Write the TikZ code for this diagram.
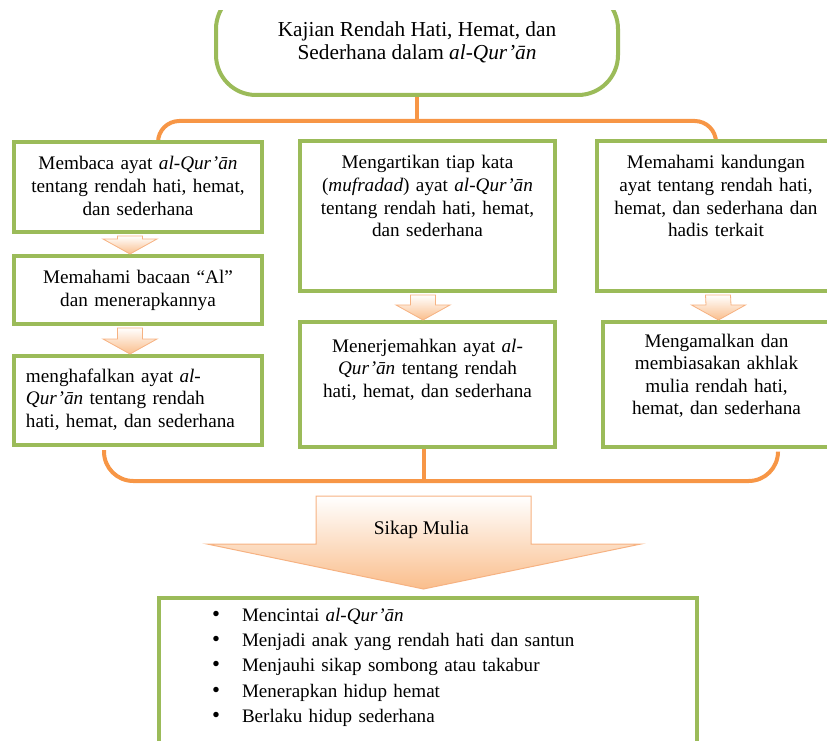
\documentclass[tikz,border=0pt]{standalone}
\usepackage{fontspec}
\setmainfont{Liberation Serif}
\definecolor{boxgreen}{RGB}{155, 187, 89}
\definecolor{linkorange}{RGB}{247, 150, 70}
\definecolor{arrowpeach}{RGB}{250, 190, 140}
\definecolor{arrowedge}{RGB}{246, 178, 130}
\usetikzlibrary{positioning, calc}

\tikzset{
  stepbox/.style={draw=boxgreen, fill=white, line width=3pt, anchor=north, inner xsep=4pt, inner ysep=11pt, text height=10pt, align=center, font=\fontsize{14.4}{16.9}\selectfont},
  bracket/.style={draw=linkorange, line width=3pt, rounded corners=16pt},
  smallarrow/.style={draw=arrowedge, line width=0.6pt, top color=white, bottom color=arrowpeach},
  bigarrow/.style={draw=arrowedge, line width=0.75pt, top color=white, bottom color=arrowpeach}
}

\begin{document}
\begin{tikzpicture}[x=0.75pt, y=-0.75pt]
  \useasboundingbox (0,0) rectangle (827,741);
  \clip (0,11) rectangle (827,741);

  % Topic
  \node[draw=boxgreen, fill=white, line width=3pt, rounded corners=30pt, minimum width=301.5pt, minimum height=79.5pt, inner sep=0pt, align=center, font=\fontsize{16}{17.25}\selectfont] (title) at (417,42) {
    Kajian Rendah Hati, Hemat, dan\\Sederhana dalam \textit{al-Qur’ān}
  };
  \coordinate (topjoin) at ($(title.south)+(0,24)$);

  % Orange links (drawn first, boxes cover their ends)
  \draw[bracket] (title.south) -- (topjoin);
  \draw[bracket] ($(138,140)+(20,0)$) |- (topjoin) -| (716,139);

  % Left column
  \node[stepbox, text width=178pt, text depth=35.5pt] (membaca) at (138,140) {
    Membaca ayat \textit{al-Qur’ān}\\tentang rendah hati, hemat,\\dan sederhana
  };
  \node[stepbox, text width=178pt, text depth=19pt] (bacaan) at (138,254) {
    Memahami bacaan “Al”\\dan menerapkannya
  };
  \node[stepbox, text width=168pt, inner xsep=9pt, inner ysep=9.5pt, text depth=37.75pt, align=left] (menghafal) at (138,354) {
    menghafalkan ayat \textit{al-}\\\textit{Qur’ān} tentang rendah\\hati, hemat, dan sederhana
  };

  % Middle column
  \node[stepbox, text width=183.25pt, text depth=80.5pt] (mengartikan) at (427.5,139) {
    Mengartikan tiap kata\\(\textit{mufradad}) ayat \textit{al-Qur’ān}\\tentang rendah hati, hemat,\\dan sederhana
  };
  \node[stepbox, text width=183.25pt, inner ysep=12.5pt, text depth=58.75pt] (menerjemah) at (427.5,320) {
    Menerjemahkan ayat \textit{al-}\\\textit{Qur’ān} tentang rendah\\hati, hemat, dan sederhana
  };

  % Right column
  \node[stepbox, text width=170.5pt, text depth=80.5pt] (kandungan) at (716,139) {
    Memahami kandungan\\ayat tentang rendah hati,\\hemat, dan sederhana dan\\hadis terkait
  };
  \node[stepbox, text width=162.25pt, inner ysep=8.75pt, text depth=66.25pt] (mengamal) at (716.5,320) {
    Mengamalkan dan\\membiasakan akhlak\\mulia rendah hati,\\hemat, dan sederhana
  };

  % Small arrows between steps
  \foreach \from/\to/\dx in {membaca/bacaan/-8, bacaan/menghafal/-8, mengartikan/menerjemah/-4.5, kandungan/mengamal/2}
    \path[smallarrow] ($(\from.south)+(\dx-12.5,2)$) -- ($(\to.north)+(\dx-12.5,-15)$) -- ($(\to.north)+(\dx-27,-15)$) -- ($(\to.north)+(\dx,0)$) -- ($(\to.north)+(\dx+27,-15)$) -- ($(\to.north)+(\dx+12.5,-15)$) -- ($(\from.south)+(\dx+12.5,2)$) -- cycle;

  % Lower orange link
  \coordinate (botjoin) at ($(menerjemah.south)+(-4,32)$);
  \draw[bracket] (botjoin) -- (botjoin |- menerjemah.south);
  \draw[bracket, rounded corners=22pt] ($(menghafal.south)+(-34,3)$) |- (botjoin) -| ($(mengamal.south)+(61.5,3)$);

  % Sikap Mulia arrow
  \path[bigarrow] ($(botjoin)+(-107.5,15)$) -- ($(botjoin)+(107.5,15)$) -- ($(botjoin)+(107.5,63)$) -- ($(botjoin)+(217.5,63)$) -- ($(botjoin)+(0,108)$) -- ($(botjoin)+(-216.5,63)$) -- ($(botjoin)+(-107.5,63)$) -- cycle;
  \node[font=\fontsize{14.5}{16}\selectfont] (mulia) at ($(botjoin)+(-2,49)$) {Sikap Mulia};

  % Attitudes
  \node[stepbox, text width=324pt, inner xsep=39.75pt, inner ysep=7.25pt, text depth=98.5pt, align=left, font=\fontsize{14.3}{19.1}\selectfont] (sikap) at (428,596) {
    \makebox[22.5pt][l]{\fontsize{17}{17}\selectfont\textbullet}Mencintai \textit{al-Qur’ān}\\
    \makebox[22.5pt][l]{\fontsize{17}{17}\selectfont\textbullet}Menjadi anak yang rendah hati dan santun\\
    \makebox[22.5pt][l]{\fontsize{17}{17}\selectfont\textbullet}Menjauhi sikap sombong atau takabur\\
    \makebox[22.5pt][l]{\fontsize{17}{17}\selectfont\textbullet}Menerapkan hidup hemat\\
    \makebox[22.5pt][l]{\fontsize{17}{17}\selectfont\textbullet}Berlaku hidup sederhana
  };
\end{tikzpicture}
\end{document}
